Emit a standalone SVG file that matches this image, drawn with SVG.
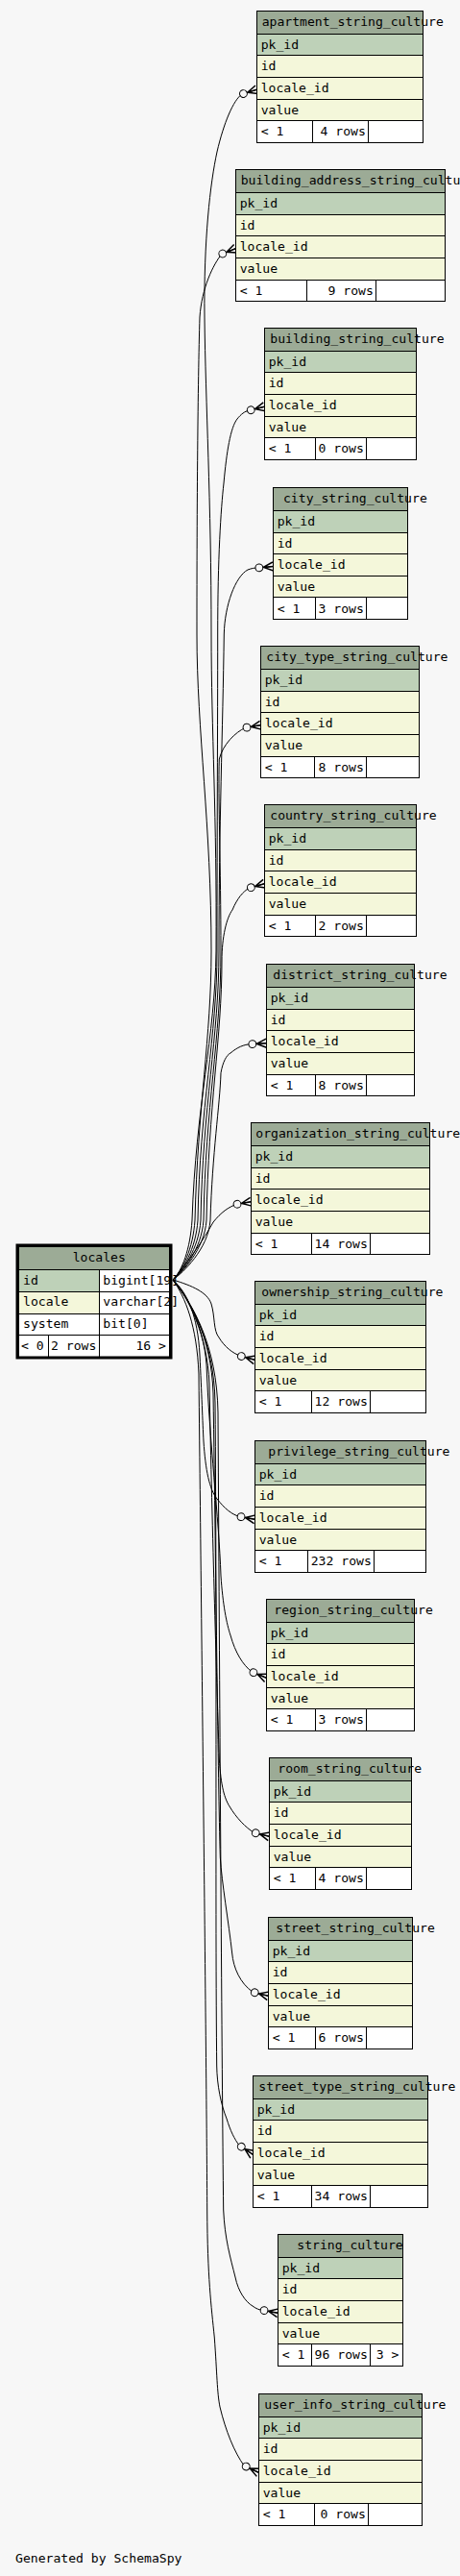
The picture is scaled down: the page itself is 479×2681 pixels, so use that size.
<svg xmlns="http://www.w3.org/2000/svg" width="479" height="2681" viewBox="0 0 479 2681">
<style>
.hd{fill:#9cab96;stroke:#000;stroke-width:1;shape-rendering:crispEdges}
.pk{fill:#bed1b8;stroke:#000;stroke-width:1;shape-rendering:crispEdges}
.rw{fill:#f4f7da;stroke:#000;stroke-width:1;shape-rendering:crispEdges}
.ft{fill:#ffffff;stroke:#000;stroke-width:1;shape-rendering:crispEdges}
text{font-family:"DejaVu Sans Mono","Liberation Mono",monospace;font-size:13.1px;fill:#000}
.r{text-anchor:end}
.edge{fill:none;stroke:#000;stroke-width:1;marker-end:url(#crow)}
</style>
<defs>
<marker id="crow" markerUnits="userSpaceOnUse" viewBox="-20 -7 21 14" refX="0" refY="0" markerWidth="21" markerHeight="14" orient="auto" overflow="visible">
<path d="M0,-4.5 L-10,0 L0,4.5 M-10,0 L0,0" fill="none" stroke="#000" stroke-width="1.5"/>
<circle cx="-14.5" cy="0" r="3.9" fill="#f7f7f7" stroke="#000" stroke-width="1"/>
</marker>
</defs>
<rect width="479" height="2681" fill="#f7f7f7"/>

<g id="connectors">
<path class="edge" d="M180,1332 C190,1322 198,1300 200,1270 C204,1150 224,1080 225,990 C226,850 220,760 220,660 C220,520 214,420 213,330 C212,250 219,190 226,158 C233,128 243,104 252,98 L267.3,93.3"/>
<path class="edge" d="M180,1332 C190,1322 201,1300 203,1270 C206,1150 220,1080 220,990 C220,860 205,760 205,660 C205,520 206,400 208,330 C210,300 222,275 231,264.3 L245.3,258.7"/>
<path class="edge" d="M180,1332 C190,1323 204,1300 206,1270 C208,1150 226,1080 226,990 C226,860 226.7,760 226.7,660 C226.7,580 230,530 233,503 C236,470 240,445 247,436 C251,431 255,428 259,427.3 L275.3,423.3"/>
<path class="edge" d="M180,1332 C190,1323 207,1300 209,1270 C211,1150 228,1080 228,990 C228,860 232,760 233.3,660 C234,630 245,600 258,593 C262,591.5 265,591 268.3,591 L284.3,589.5"/>
<path class="edge" d="M180,1332 C190,1324 210,1300 212,1270 C214,1150 230,1080 230,990 C230,900 227,830 228.3,790 C232,775 245,762 255.7,757.3 L271.3,754.7"/>
<path class="edge" d="M180,1332 C190,1324 213,1300 215,1270 C217,1150 231,1080 231,1000 C231,975 236,955 242,947 C247,935 253,928 259.3,924.3 L275.3,919.7"/>
<path class="edge" d="M180,1332 C190,1325 217,1300 219,1270 C221,1200 229,1150 230,1116.7 C232,1105 236,1098 240,1096 C247,1090 254,1087 261.3,1086.7 L277.3,1085.7"/>
<path class="edge" d="M180,1332 C195,1315 212,1290 222,1272 C230,1262 238,1256 246.7,1253.3 L261.3,1250.7"/>
<path class="edge" d="M180,1332 C200,1338 216,1345 220,1357 C224,1370 222,1385 228,1392 C234,1402 242,1408 250.3,1411.3 L265.3,1415.3"/>
<path class="edge" d="M180,1332 C195,1345 206,1370 208,1410 C210,1450 211,1480 212,1500 C214,1530 218,1550 226,1560 C234,1570 241,1576 249,1578.3 L265.3,1581.3"/>
<path class="edge" d="M180,1332 C195,1348 212,1380 215,1420 C218,1500 228,1580 230,1640 C232,1670 236,1690 240,1702 C245,1720 253,1733 262.3,1740 L277.3,1746.3"/>
<path class="edge" d="M180,1332 C196,1350 216,1390 218,1440 C221,1600 226,1760 228.3,1830 C230,1860 234,1872 239,1880 C246,1892 256,1902 264.3,1907.3 L280.3,1911.3"/>
<path class="edge" d="M180,1332 C197,1352 220,1390 222,1450 C225,1650 227,1850 229.3,1933 C231,1960 238,2000 241.7,2033 C243,2048 250,2064 263.3,2073.3 L279.3,2077.3"/>
<path class="edge" d="M180,1332 C198,1354 223,1395 224,1460 C226,1700 224,2000 225.7,2150 C226,2170 230,2190 236,2205 C240,2218 244,2226 249,2232.7 L263.3,2242.3"/>
<path class="edge" d="M180,1332 C200,1356 226,1400 227,1470 C229,1800 231,2150 232.7,2300 C234,2330 240,2350 245,2370 C248,2385 256,2396 263,2400 C267,2403 270,2404 273.3,2404.3 L289.3,2407.3"/>
<path class="edge" d="M180,1332 C193,1350 205,1380 207,1430 C211,1800 215,2150 215.7,2300 C216,2370 220,2400 223.3,2433 C226,2470 226,2490 229,2505 C235,2530 244,2552 254,2566 L269.3,2573.3"/>
</g>

<g id="locales">
<rect class="hd" x="19.5" y="1297" width="157" height="24.3"/>
<rect class="pk" x="19.5" y="1321.3" width="84.2" height="22.7"/>
<rect class="ft" x="103.7" y="1321.3" width="72.8" height="22.7"/>
<rect class="rw" x="19.5" y="1344" width="84.2" height="23"/>
<rect class="ft" x="103.7" y="1344" width="72.8" height="23"/>
<rect class="ft" x="19.5" y="1367" width="84.2" height="22.3"/>
<rect class="ft" x="103.7" y="1367" width="72.8" height="22.3"/>
<rect class="ft" x="19.5" y="1389.3" width="30.5" height="22.7"/>
<rect class="ft" x="50" y="1389.3" width="53.7" height="22.7"/>
<rect class="ft" x="103.7" y="1389.3" width="72.8" height="22.7"/>
<rect x="18" y="1296" width="160" height="117" fill="none" stroke="#000" stroke-width="3"/>
<text x="75.7" y="1313">locales</text>
<text x="24" y="1336.7">id</text>
<text x="107.3" y="1336.7">bigint[19]</text>
<text x="24" y="1359.4">locale</text>
<text x="107.3" y="1359.4">varchar[2]</text>
<text x="24" y="1382.4">system</text>
<text x="107.3" y="1382.4">bit[0]</text>
<text x="22" y="1404.8">&lt; 0</text>
<text x="53" y="1404.8">2 rows</text>
<text class="r" x="173" y="1404.8">16 &gt;</text>
</g>

<g id="apartment_string_culture" transform="translate(267.3,11.3)">
<rect class="hd" width="173" height="24"/><rect class="pk" y="24" width="173" height="22.6"/><rect class="rw" y="46.6" width="173" height="22.6"/><rect class="rw" y="69.2" width="173" height="22.6"/><rect class="rw" y="91.8" width="173" height="22.6"/>
<rect class="ft" y="114.4" width="58" height="22.6"/><rect class="ft" x="58" y="114.4" width="58" height="22.6"/><rect class="ft" x="116" y="114.4" width="57" height="22.6"/>
<text x="5.4" y="15.4">apartment_string_culture</text><text x="4.4" y="39.6">pk_id</text><text x="4.4" y="62.2">id</text><text x="4.4" y="84.8">locale_id</text><text x="4.4" y="107.4">value</text><text x="4.4" y="130">&lt; 1</text><text class="r" x="113.5" y="130">4 rows</text>
</g>

<g id="building_address_string_culture" transform="translate(245.3,176.7)">
<rect class="hd" width="218" height="24"/><rect class="pk" y="24" width="218" height="22.6"/><rect class="rw" y="46.6" width="218" height="22.6"/><rect class="rw" y="69.2" width="218" height="22.6"/><rect class="rw" y="91.8" width="218" height="22.6"/>
<rect class="ft" y="114.4" width="74" height="22.6"/><rect class="ft" x="74" y="114.4" width="72" height="22.6"/><rect class="ft" x="146" y="114.4" width="72" height="22.6"/>
<text x="5.4" y="15.4">building_address_string_culture</text><text x="4.4" y="39.6">pk_id</text><text x="4.4" y="62.2">id</text><text x="4.4" y="84.8">locale_id</text><text x="4.4" y="107.4">value</text><text x="4.4" y="130">&lt; 1</text><text class="r" x="143.5" y="130">9 rows</text>
</g>

<g id="building_string_culture" transform="translate(275.3,341.3)">
<rect class="hd" width="158.4" height="24"/><rect class="pk" y="24" width="158.4" height="22.6"/><rect class="rw" y="46.6" width="158.4" height="22.6"/><rect class="rw" y="69.2" width="158.4" height="22.6"/><rect class="rw" y="91.8" width="158.4" height="22.6"/>
<rect class="ft" y="114.4" width="53" height="22.6"/><rect class="ft" x="53" y="114.4" width="53" height="22.6"/><rect class="ft" x="106" y="114.4" width="52.4" height="22.6"/>
<text x="6" y="15.4">building_string_culture</text><text x="4.4" y="39.6">pk_id</text><text x="4.4" y="62.2">id</text><text x="4.4" y="84.8">locale_id</text><text x="4.4" y="107.4">value</text><text x="4.4" y="130">&lt; 1</text><text class="r" x="103.5" y="130">0 rows</text>
</g>

<g id="city_string_culture" transform="translate(284.3,507.5)">
<rect class="hd" width="140" height="24"/><rect class="pk" y="24" width="140" height="22.6"/><rect class="rw" y="46.6" width="140" height="22.6"/><rect class="rw" y="69.2" width="140" height="22.6"/><rect class="rw" y="91.8" width="140" height="22.6"/>
<rect class="ft" y="114.4" width="44" height="22.6"/><rect class="ft" x="44" y="114.4" width="53" height="22.6"/><rect class="ft" x="97" y="114.4" width="43" height="22.6"/>
<text x="10.7" y="15.4">city_string_culture</text><text x="4.4" y="39.6">pk_id</text><text x="4.4" y="62.2">id</text><text x="4.4" y="84.8">locale_id</text><text x="4.4" y="107.4">value</text><text x="4.4" y="130">&lt; 1</text><text class="r" x="94.5" y="130">3 rows</text>
</g>

<g id="city_type_string_culture" transform="translate(271.3,672.7)">
<rect class="hd" width="165" height="24"/><rect class="pk" y="24" width="165" height="22.6"/><rect class="rw" y="46.6" width="165" height="22.6"/><rect class="rw" y="69.2" width="165" height="22.6"/><rect class="rw" y="91.8" width="165" height="22.6"/>
<rect class="ft" y="114.4" width="56" height="22.6"/><rect class="ft" x="56" y="114.4" width="54" height="22.6"/><rect class="ft" x="110" y="114.4" width="55" height="22.6"/>
<text x="6" y="15.4">city_type_string_culture</text><text x="4.4" y="39.6">pk_id</text><text x="4.4" y="62.2">id</text><text x="4.4" y="84.8">locale_id</text><text x="4.4" y="107.4">value</text><text x="4.4" y="130">&lt; 1</text><text class="r" x="107.5" y="130">8 rows</text>
</g>

<g id="country_string_culture" transform="translate(275.3,837.7)">
<rect class="hd" width="158.4" height="24"/><rect class="pk" y="24" width="158.4" height="22.6"/><rect class="rw" y="46.6" width="158.4" height="22.6"/><rect class="rw" y="69.2" width="158.4" height="22.6"/><rect class="rw" y="91.8" width="158.4" height="22.6"/>
<rect class="ft" y="114.4" width="53" height="22.6"/><rect class="ft" x="53" y="114.4" width="53" height="22.6"/><rect class="ft" x="106" y="114.4" width="52.4" height="22.6"/>
<text x="6" y="15.4">country_string_culture</text><text x="4.4" y="39.6">pk_id</text><text x="4.4" y="62.2">id</text><text x="4.4" y="84.8">locale_id</text><text x="4.4" y="107.4">value</text><text x="4.4" y="130">&lt; 1</text><text class="r" x="103.5" y="130">2 rows</text>
</g>

<g id="district_string_culture" transform="translate(277.3,1003.7)">
<rect class="hd" width="154" height="24"/><rect class="pk" y="24" width="154" height="22.6"/><rect class="rw" y="46.6" width="154" height="22.6"/><rect class="rw" y="69.2" width="154" height="22.6"/><rect class="rw" y="91.8" width="154" height="22.6"/>
<rect class="ft" y="114.4" width="51" height="22.6"/><rect class="ft" x="51" y="114.4" width="53" height="22.6"/><rect class="ft" x="104" y="114.4" width="50" height="22.6"/>
<text x="7" y="15.4">district_string_culture</text><text x="4.4" y="39.6">pk_id</text><text x="4.4" y="62.2">id</text><text x="4.4" y="84.8">locale_id</text><text x="4.4" y="107.4">value</text><text x="4.4" y="130">&lt; 1</text><text class="r" x="101.5" y="130">8 rows</text>
</g>

<g id="organization_string_culture" transform="translate(261.3,1168.7)">
<rect class="hd" width="186" height="24"/><rect class="pk" y="24" width="186" height="22.6"/><rect class="rw" y="46.6" width="186" height="22.6"/><rect class="rw" y="69.2" width="186" height="22.6"/><rect class="rw" y="91.8" width="186" height="22.6"/>
<rect class="ft" y="114.4" width="63" height="22.6"/><rect class="ft" x="63" y="114.4" width="61" height="22.6"/><rect class="ft" x="124" y="114.4" width="62" height="22.6"/>
<text x="5" y="15.4">organization_string_culture</text><text x="4.4" y="39.6">pk_id</text><text x="4.4" y="62.2">id</text><text x="4.4" y="84.8">locale_id</text><text x="4.4" y="107.4">value</text><text x="4.4" y="130">&lt; 1</text><text class="r" x="121.5" y="130">14 rows</text>
</g>

<g id="ownership_string_culture" transform="translate(265.3,1333.3)">
<rect class="hd" width="178" height="24"/><rect class="pk" y="24" width="178" height="22.6"/><rect class="rw" y="46.6" width="178" height="22.6"/><rect class="rw" y="69.2" width="178" height="22.6"/><rect class="rw" y="91.8" width="178" height="22.6"/>
<rect class="ft" y="114.4" width="59" height="22.6"/><rect class="ft" x="59" y="114.4" width="61" height="22.6"/><rect class="ft" x="120" y="114.4" width="58" height="22.6"/>
<text x="7" y="15.4">ownership_string_culture</text><text x="4.4" y="39.6">pk_id</text><text x="4.4" y="62.2">id</text><text x="4.4" y="84.8">locale_id</text><text x="4.4" y="107.4">value</text><text x="4.4" y="130">&lt; 1</text><text class="r" x="117.5" y="130">12 rows</text>
</g>

<g id="privilege_string_culture" transform="translate(265.3,1499.3)">
<rect class="hd" width="178" height="24"/><rect class="pk" y="24" width="178" height="22.6"/><rect class="rw" y="46.6" width="178" height="22.6"/><rect class="rw" y="69.2" width="178" height="22.6"/><rect class="rw" y="91.8" width="178" height="22.6"/>
<rect class="ft" y="114.4" width="55" height="22.6"/><rect class="ft" x="55" y="114.4" width="69" height="22.6"/><rect class="ft" x="124" y="114.4" width="54" height="22.6"/>
<text x="14" y="15.4">privilege_string_culture</text><text x="4.4" y="39.6">pk_id</text><text x="4.4" y="62.2">id</text><text x="4.4" y="84.8">locale_id</text><text x="4.4" y="107.4">value</text><text x="4.4" y="130">&lt; 1</text><text class="r" x="121.5" y="130">232 rows</text>
</g>

<g id="region_string_culture" transform="translate(277.3,1664.3)">
<rect class="hd" width="154" height="24"/><rect class="pk" y="24" width="154" height="22.6"/><rect class="rw" y="46.6" width="154" height="22.6"/><rect class="rw" y="69.2" width="154" height="22.6"/><rect class="rw" y="91.8" width="154" height="22.6"/>
<rect class="ft" y="114.4" width="51" height="22.6"/><rect class="ft" x="51" y="114.4" width="53" height="22.6"/><rect class="ft" x="104" y="114.4" width="50" height="22.6"/>
<text x="8" y="15.4">region_string_culture</text><text x="4.4" y="39.6">pk_id</text><text x="4.4" y="62.2">id</text><text x="4.4" y="84.8">locale_id</text><text x="4.4" y="107.4">value</text><text x="4.4" y="130">&lt; 1</text><text class="r" x="101.5" y="130">3 rows</text>
</g>

<g id="room_string_culture" transform="translate(280.3,1829.3)">
<rect class="hd" width="148" height="24"/><rect class="pk" y="24" width="148" height="22.6"/><rect class="rw" y="46.6" width="148" height="22.6"/><rect class="rw" y="69.2" width="148" height="22.6"/><rect class="rw" y="91.8" width="148" height="22.6"/>
<rect class="ft" y="114.4" width="48" height="22.6"/><rect class="ft" x="48" y="114.4" width="53" height="22.6"/><rect class="ft" x="101" y="114.4" width="47" height="22.6"/>
<text x="9" y="15.4">room_string_culture</text><text x="4.4" y="39.6">pk_id</text><text x="4.4" y="62.2">id</text><text x="4.4" y="84.8">locale_id</text><text x="4.4" y="107.4">value</text><text x="4.4" y="130">&lt; 1</text><text class="r" x="98.5" y="130">4 rows</text>
</g>

<g id="street_string_culture" transform="translate(279.3,1995.3)">
<rect class="hd" width="150" height="24"/><rect class="pk" y="24" width="150" height="22.6"/><rect class="rw" y="46.6" width="150" height="22.6"/><rect class="rw" y="69.2" width="150" height="22.6"/><rect class="rw" y="91.8" width="150" height="22.6"/>
<rect class="ft" y="114.4" width="49" height="22.6"/><rect class="ft" x="49" y="114.4" width="53" height="22.6"/><rect class="ft" x="102" y="114.4" width="48" height="22.6"/>
<text x="8" y="15.4">street_string_culture</text><text x="4.4" y="39.6">pk_id</text><text x="4.4" y="62.2">id</text><text x="4.4" y="84.8">locale_id</text><text x="4.4" y="107.4">value</text><text x="4.4" y="130">&lt; 1</text><text class="r" x="99.5" y="130">6 rows</text>
</g>

<g id="street_type_string_culture" transform="translate(263.3,2160.3)">
<rect class="hd" width="182" height="24"/><rect class="pk" y="24" width="182" height="22.6"/><rect class="rw" y="46.6" width="182" height="22.6"/><rect class="rw" y="69.2" width="182" height="22.6"/><rect class="rw" y="91.8" width="182" height="22.6"/>
<rect class="ft" y="114.4" width="61" height="22.6"/><rect class="ft" x="61" y="114.4" width="61" height="22.6"/><rect class="ft" x="122" y="114.4" width="60" height="22.6"/>
<text x="6" y="15.4">street_type_string_culture</text><text x="4.4" y="39.6">pk_id</text><text x="4.4" y="62.2">id</text><text x="4.4" y="84.8">locale_id</text><text x="4.4" y="107.4">value</text><text x="4.4" y="130">&lt; 1</text><text class="r" x="119.5" y="130">34 rows</text>
</g>

<g id="string_culture" transform="translate(289.3,2325.3)">
<rect class="hd" width="130" height="24"/><rect class="pk" y="24" width="130" height="22.6"/><rect class="rw" y="46.6" width="130" height="22.6"/><rect class="rw" y="69.2" width="130" height="22.6"/><rect class="rw" y="91.8" width="130" height="22.6"/>
<rect class="ft" y="114.4" width="35" height="22.6"/><rect class="ft" x="35" y="114.4" width="61" height="22.6"/><rect class="ft" x="96" y="114.4" width="34" height="22.6"/>
<text x="20" y="15.4">string_culture</text><text x="4.4" y="39.6">pk_id</text><text x="4.4" y="62.2">id</text><text x="4.4" y="84.8">locale_id</text><text x="4.4" y="107.4">value</text><text x="4.4" y="130">&lt; 1</text><text class="r" x="93.5" y="130">96 rows</text><text class="r" x="126" y="130">3 &gt;</text>
</g>

<g id="user_info_string_culture" transform="translate(269.3,2491.3)">
<rect class="hd" width="170" height="24"/><rect class="pk" y="24" width="170" height="22.6"/><rect class="rw" y="46.6" width="170" height="22.6"/><rect class="rw" y="69.2" width="170" height="22.6"/><rect class="rw" y="91.8" width="170" height="22.6"/>
<rect class="ft" y="114.4" width="58" height="22.6"/><rect class="ft" x="58" y="114.4" width="56" height="22.6"/><rect class="ft" x="114" y="114.4" width="56" height="22.6"/>
<text x="6" y="15.4">user_info_string_culture</text><text x="4.4" y="39.6">pk_id</text><text x="4.4" y="62.2">id</text><text x="4.4" y="84.8">locale_id</text><text x="4.4" y="107.4">value</text><text x="4.4" y="130">&lt; 1</text><text class="r" x="111.5" y="130">0 rows</text>
</g>

<text x="16" y="2666.5">Generated by SchemaSpy</text>
</svg>
